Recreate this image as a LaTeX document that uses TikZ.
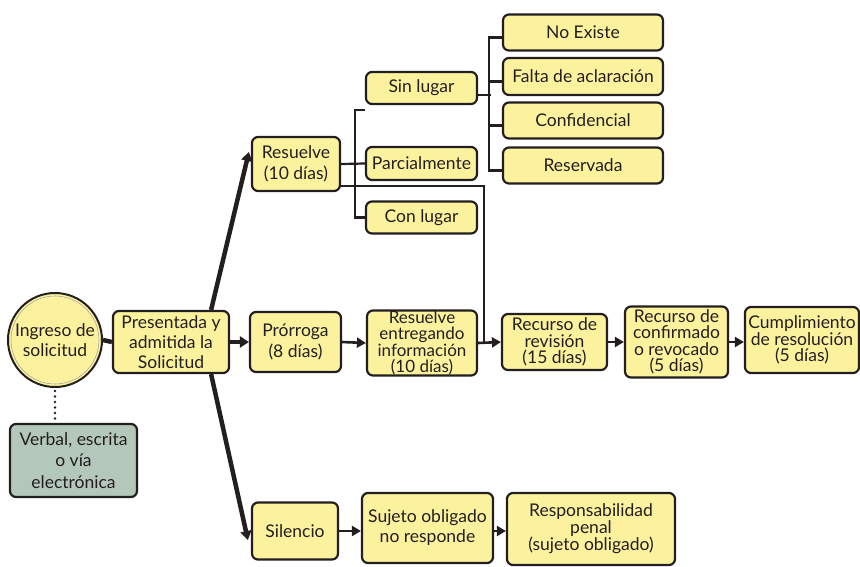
\documentclass[tikz,border=0pt]{standalone}
\usepackage{fontspec}
\setmainfont{Lato}
\usetikzlibrary{arrows.meta,calc}
\definecolor{boxfill}{HTML}{FCF29E}
\definecolor{greenfill}{HTML}{B3C7BA}
\definecolor{ink}{HTML}{231F20}
\tikzset{
  box/.style={draw=ink, line width=2.2pt, rounded corners=6pt, fill=boxfill,
    align=center, inner sep=0pt, text=ink, font=\fontsize{17.5}{20.5}\selectfont},
  tight/.style={font=\fontsize{17.5}{16.5}\selectfont},
  tighter/.style={font=\fontsize{17}{16.3}\selectfont},
  conn/.style={draw=ink, line width=2.2pt},
  thick arrow/.style={draw=ink, line width=4.5pt, -{Triangle[length=9pt,width=11pt]}},
  arr/.style={draw=ink, line width=2.6pt, -{Triangle[length=9pt,width=10pt]}},
}
\begin{document}
\begin{tikzpicture}[x=1pt,y=-1pt]
\useasboundingbox (0,0) rectangle (860,566);
% circle
\node[circle, draw=ink, line width=2pt, fill=boxfill, minimum size=94pt, inner sep=0pt,
  align=center, text=ink, font=\fontsize{17.5}{20}\selectfont] (ingreso) at (55,340) {Ingreso de\\solicitud};
\draw[gray!70, line width=0.6pt] (ingreso.center) circle (44pt);
\node[box, minimum width=116pt, minimum height=62pt, font=\fontsize{17.5}{20}\selectfont] (pres) at (171,342) {Presentada y\\admitida la\\Solicitud};
\node[box, fill=greenfill, minimum width=127pt, minimum height=73pt, font=\fontsize{17.5}{21.5}\selectfont] (verbal) at (73.5,460.5) {Verbal, escrita\\o vía\\electrónica};
% upper branch
\node[box, minimum width=88pt, minimum height=54pt] (resuelve) at (296,164) {Resuelve\\(10 días)};
\node[box, minimum width=111pt, minimum height=32pt] (sinlugar) at (421.5,88) {Sin lugar};
\node[box, minimum width=111pt, minimum height=33pt] (parcial) at (421.5,163.5) {Parcialmente};
\node[box, minimum width=111pt, minimum height=32pt] (conlugar) at (421.5,217.5) {Con lugar};
\node[box, minimum width=160pt, minimum height=36pt] (noexiste) at (583,32.5) {No Existe};
\node[box, minimum width=160pt, minimum height=37pt] (falta) at (583,76.5) {Falta de aclaración};
\node[box, minimum width=160pt, minimum height=36pt] (confid) at (583,120.5) {Confidencial};
\node[box, minimum width=160pt, minimum height=36pt] (reservada) at (583,165.5) {Reservada};
% middle row
\node[box, minimum width=91pt, minimum height=60pt] (prorroga) at (295.5,342) {Prórroga\\(8 días)};
\node[box, tighter, minimum width=110pt, minimum height=65pt] (resent) at (422,343) {Resuelve\\entregando\\información\\(10 días)};
\node[box, tight, minimum width=105pt, minimum height=56pt] (recurso) at (554.5,342) {Recurso de\\revisión\\(15 días)};
\node[box, tight, minimum width=103pt, minimum height=71pt] (confirmado) at (676.5,342) {Recurso de\\confirmado\\o revocado\\(5 días)};
\node[box, tight, minimum width=114pt, minimum height=66pt] (cumpl) at (802,340) {Cumplimiento\\de resolución\\(5 días)};
% lower row
\node[box, minimum width=86pt, minimum height=57pt] (silencio) at (295,531) {Silencio};
\node[box, font=\fontsize{17.5}{20}\selectfont, minimum width=131pt, minimum height=70pt] (sujeto) at (427.5,528) {Sujeto obligado\\no responde};
\node[box, tight, minimum width=168pt, minimum height=72pt] (respons) at (591,529) {Responsabilidad\\penal\\(sujeto obligado)};
% connectors
\draw[ink, line width=4.5pt] (ingreso.east) -- (pres.west);
\draw[ink, line width=2.6pt, line cap=round, dash pattern=on 0pt off 5.5pt] ([yshift=-3pt]ingreso.south) -- ([yshift=3pt]ingreso.south |- verbal.north);
\draw[thick arrow] (pres.east) -- (prorroga.west);
\draw[thick arrow] ([xshift=-19pt]pres.north east) -- ([yshift=12pt,xshift=-2pt]resuelve.west);
\draw[thick arrow] ([xshift=-19pt]pres.south east) -- ([yshift=-9pt,xshift=-3pt]silencio.west);
% Resuelve bracket
\draw[conn] (resuelve.east) -- (parcial.west);
\draw[conn] ([yshift=-5pt]sinlugar.south west) -- ++(-10,0) |- (conlugar.west);
\draw[conn] ([yshift=-22pt]resuelve.east) -| (484,343);
% Sin lugar bracket
\draw[conn] ([yshift=-7pt]sinlugar.east) -- ++(13,0);
\draw[conn] ([yshift=-5pt]noexiste.west) -- ++(-13,0) |- ([yshift=-5pt]reservada.west);
\draw[conn] ([yshift=-5pt]falta.west) -- ++(-13,0);
\draw[conn] ([yshift=-5pt]confid.west) -- ++(-13,0);
% middle arrows
\draw[arr] (prorroga.east) -- (resent.west);
\draw[arr] (resent.east) -- (recurso.west);
\draw[arr] (recurso.east) -- (confirmado.west);
\draw[arr] (confirmado.east) -- (cumpl.west |- confirmado.east);
% lower arrows
\draw[arr] (silencio.east) -- (sujeto.west |- silencio.east);
\draw[arr] (sujeto.east |- silencio.east) -- (respons.west |- silencio.east);
\end{tikzpicture}
\end{document}
